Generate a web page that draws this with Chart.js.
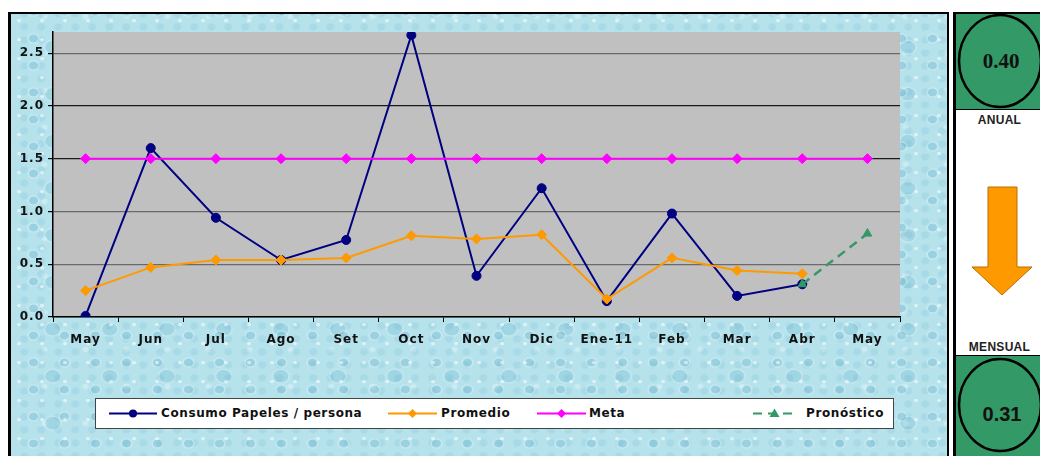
<!DOCTYPE html>
<html>
<head>
<meta charset="utf-8">
<script src="https://cdn.jsdelivr.net/npm/chart.js@4.4.1/dist/chart.umd.min.js"></script>
<style>
  html, body { margin:0; padding:0; background:#fff; width:1040px; height:456px; overflow:hidden; position:relative; font-family:"DejaVu Sans", sans-serif; }
  #frame { position:absolute; left:8px; top:12px; width:936px; height:460px; border-left:3px solid #000; border-top:2px solid #000; border-right:2px solid #000;
    background-color:#b6e2ec;
    background-image:
      radial-gradient(ellipse at 35% 35%, rgba(255,255,255,0.55) 0 1.5px, transparent 2.5px),
      radial-gradient(ellipse at 50% 50%, rgba(70,160,190,0.25) 0 4px, rgba(255,255,255,0.25) 5px, transparent 7px),
      radial-gradient(ellipse at 40% 60%, rgba(70,160,190,0.2) 0 7px, rgba(255,255,255,0.2) 8px, transparent 10px),
      radial-gradient(ellipse at 60% 30%, rgba(90,170,200,0.16) 0 3px, transparent 5px),
      radial-gradient(ellipse at 50% 50%, rgba(255,255,255,0.3) 0 2px, transparent 4px);
    background-size: 23px 19px, 31px 27px, 57px 47px, 17px 13px, 41px 37px;
    background-position: 0 0, 7px 11px, 19px 5px, 3px 9px, 13px 21px;
  }
  #chartCanvas { position:absolute; left:0; top:0; z-index:2; }
  #legend { position:absolute; left:95px; top:398px; width:797px; height:29px; background:#fff; border:1px solid #444; z-index:3; }
  .li { position:absolute; top:0; height:29px; }
  .lt { position:absolute; top:7px; font:bold 12px "DejaVu Sans", sans-serif; letter-spacing:0.6px; color:#111; white-space:nowrap; }
  #panel { position:absolute; left:953px; top:12px; width:90px; height:450px; border-left:3px solid #000; border-top:2px solid #000; background:#fff; z-index:1; }
  .gbox { position:absolute; left:0; width:90px; background:#339966; overflow:hidden; }
  .plabel { position:absolute; left:0; width:87px; text-align:center; font:bold 12px "Liberation Sans", Arial, sans-serif; letter-spacing:0.3px; color:#222; }
</style>
</head>
<body>
<div id="frame"></div>
<canvas id="chartCanvas" width="945" height="456"></canvas>

<div id="legend"></div>

<div id="panel">
  <div class="gbox" id="topBox" style="top:0; height:95px; border-bottom:1px solid #000;">
    <svg width="90" height="95" style="position:absolute;left:0;top:0">
      <ellipse cx="44" cy="47" rx="41" ry="46" fill="#339966" stroke="#000" stroke-width="2.5"/>
      <text id="anualVal" x="45" y="54" text-anchor="middle" font-family="Liberation Serif, serif" font-weight="bold" font-size="21" fill="#111"></text>
    </svg>
  </div>
  <div class="plabel" style="top:99px;">ANUAL</div>
  <svg width="90" height="140" style="position:absolute;left:0;top:160px">
    <polygon points="32,13 61,13 61,93 76,93 46,121 16,93 32,93" fill="#ff9900" stroke="#b86e00" stroke-width="1"/>
  </svg>
  <div class="plabel" style="top:326px;">MENSUAL</div>
  <div class="gbox" id="botBox" style="top:341px; height:110px; border-top:1px solid #000;">
    <svg width="90" height="110" style="position:absolute;left:0;top:0">
      <ellipse cx="44" cy="49" rx="41" ry="46" fill="#339966" stroke="#000" stroke-width="2.5"/>
      <text id="mensualVal" x="46" y="65" text-anchor="middle" font-family="Liberation Sans, Arial, sans-serif" font-weight="bold" font-size="20" fill="#111"></text>
    </svg>
  </div>
</div>

<script>
// ---- data ----
const categories = ['May','Jun','Jul','Ago','Set','Oct','Nov','Dic','Ene-11','Feb','Mar','Abr','May'];
const consumo    = [0.01, 1.60, 0.94, 0.54, 0.73, 2.67, 0.39, 1.22, 0.15, 0.98, 0.20, 0.31, null];
const promedio   = [0.25, 0.47, 0.54, 0.54, 0.56, 0.77, 0.74, 0.78, 0.17, 0.56, 0.44, 0.41, null];
const meta       = [1.5, 1.5, 1.5, 1.5, 1.5, 1.5, 1.5, 1.5, 1.5, 1.5, 1.5, 1.5, 1.5];
const pronostico = [null, null, null, null, null, null, null, null, null, null, null, 0.31, 0.79];
const seriesNames = ['Consumo Papeles / persona', 'Promedio', 'Meta', 'Pronóstico'];
const yMin = 0, yMax = 2.7, yStep = 0.5;
const anualValue = '0.40';
const mensualValue = '0.31';

document.getElementById('anualVal').textContent = anualValue;
document.getElementById('mensualVal').textContent = mensualValue;

// ---- legend (HTML) ----
const legendItems = [
  { name: seriesNames[0], color:'#000080', marker:'circle',   x:13,  w:48, tx:65 },
  { name: seriesNames[1], color:'#ff9900', marker:'diamond',  x:292, w:49, tx:345 },
  { name: seriesNames[2], color:'#ff00ff', marker:'diamond',  x:441, w:49, tx:493 },
  { name: seriesNames[3], color:'#339966', marker:'triangle', x:657, w:43, tx:710, dash:true }
];
const leg = document.getElementById('legend');
legendItems.forEach(it => {
  const d = document.createElement('div');
  d.className = 'li';
  d.style.left = it.x + 'px';
  const cx = it.w / 2, cy = 14.5;
  let mk = '';
  if (it.marker === 'circle') mk = `<circle cx="${cx}" cy="${cy}" r="4" fill="${it.color}"/>`;
  if (it.marker === 'diamond') mk = `<polygon points="${cx},${cy-4.5} ${cx+4.5},${cy} ${cx},${cy+4.5} ${cx-4.5},${cy}" fill="${it.color}"/>`;
  if (it.marker === 'triangle') mk = `<polygon points="${cx},${cy-5} ${cx+5},${cy+3.5} ${cx-5},${cy+3.5}" fill="${it.color}"/>`;
  d.innerHTML = `<svg width="${it.w}" height="29" style="position:absolute;left:0;top:0">
      <line x1="0" y1="${cy}" x2="${it.w}" y2="${cy}" stroke="${it.color}" stroke-width="2" ${it.dash ? 'stroke-dasharray="9,6"' : ''}/>${mk}</svg>`;
  leg.appendChild(d);
  const t = document.createElement('div');
  t.className = 'lt';
  t.style.left = it.tx + 'px';
  t.textContent = it.name;
  leg.appendChild(t);
});

// ---- chart ----
const plotBg = {
  id: 'plotBg',
  beforeDraw(chart) {
    const { ctx, chartArea: a } = chart;
    ctx.save();
    ctx.fillStyle = '#c0c0c0';
    ctx.fillRect(a.left, a.top, a.right - a.left, a.bottom - a.top);
    ctx.restore();
    ctx.letterSpacing = '1px';
  }
};

const tickFont = { family: '"DejaVu Sans", sans-serif', size: 12, weight: 'bold' };

new Chart(document.getElementById('chartCanvas'), {
  type: 'line',
  data: {
    labels: categories,
    datasets: [
      { label: seriesNames[3], data: pronostico, borderColor:'#339966', backgroundColor:'#339966', borderWidth:2.5, borderDash:[9,6],
        pointStyle:'triangle', pointRadius:5, pointBorderWidth:1, tension:0, spanGaps:false },
      { label: seriesNames[2], data: meta, borderColor:'#ff00ff', backgroundColor:'#ff00ff', borderWidth:2,
        pointStyle:'rectRot', pointRadius:5, pointBorderWidth:1, tension:0 },
      { label: seriesNames[1], data: promedio, borderColor:'#ff9900', backgroundColor:'#ff9900', borderWidth:2,
        pointStyle:'rectRot', pointRadius:5, pointBorderWidth:1, tension:0 },
      { label: seriesNames[0], data: consumo, borderColor:'#000080', backgroundColor:'#000080', borderWidth:2,
        pointStyle:'circle', pointRadius:4.5, pointBorderWidth:1, tension:0 }
    ]
  },
  options: {
    responsive: false,
    animation: false,
    devicePixelRatio: 1,
    layout: { padding: { left: 0, top: 32, right: 45, bottom: 99 } },
    plugins: { legend: { display: false }, tooltip: { enabled: false } },
    scales: {
      x: {
        type: 'category',
        offset: true,
        afterFit: s => { s.height = 40; },
        grid: { offset: true, drawOnChartArea: false, drawTicks: true, tickLength: 5, tickColor: '#000', tickWidth: 1 },
        border: { color: '#000', width: 1.5 },
        ticks: { font: tickFont, color: '#111', padding: 11, maxRotation: 0, autoSkip: false }
      },
      y: {
        min: yMin, max: yMax,
        afterFit: s => { s.width = 53; },
        grid: {
          color: c => (c.tick && (c.tick.value === 2 || c.tick.value === 1.5)) ? '#1a1a1a' : '#6a6a6a',
          lineWidth: 1.2, drawTicks: true, tickLength: 5, tickColor: '#000'
        },
        border: { color: '#000', width: 1.5 },
        ticks: { stepSize: yStep, includeBounds: false, font: tickFont, color: '#111', padding: 4,
                 callback: v => Number(v).toFixed(1) }
      }
    }
  },
  plugins: [plotBg]
});
</script>
</body>
</html>
